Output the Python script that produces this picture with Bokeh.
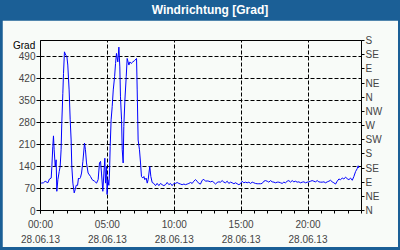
from bokeh.plotting import figure
from bokeh.models import Range1d, LinearAxis, FixedTicker, Div
from bokeh.layouts import column
from bokeh.embed import file_html
from bokeh.resources import INLINE

# ---- data ----
hours = [0.05, 0.22, 0.35, 0.55, 0.67, 0.80, 0.85, 0.92, 0.97, 1.02, 1.10, 1.17, 1.22, 1.30, 1.40,
         1.47, 1.54, 1.59, 1.67, 1.72, 1.79, 1.89, 1.97, 2.04, 2.14, 2.22, 2.29, 2.34, 2.42, 2.52,
         2.59, 2.67, 2.77, 2.84, 2.91, 2.99, 3.07, 3.17, 3.29, 3.36, 3.44, 3.56, 3.74, 3.86, 4.04,
         4.19, 4.31, 4.41, 4.49, 4.56, 4.66, 4.74, 4.81, 4.86, 4.94, 4.98, 5.03, 5.11, 5.16, 5.21,
         5.28, 5.36, 5.44, 5.54, 5.61, 5.68, 5.78, 5.86, 5.93, 5.98, 6.06, 6.11, 6.18, 6.23, 6.31,
         6.41, 6.48, 6.61, 6.68, 6.78, 6.90, 7.03, 7.18, 7.23, 7.30, 7.40, 7.48, 7.55, 7.65, 7.73,
         7.80, 7.90, 7.98, 8.05, 8.17, 8.25, 8.35, 8.47, 8.60, 8.72, 8.85, 8.97, 9.10, 9.22, 9.35,
         9.47, 9.60, 9.72, 9.84, 9.97, 10.09, 10.22, 10.34, 10.47, 10.59, 10.72, 10.84, 10.97, 11.09,
         11.22, 11.34, 11.46, 11.59, 11.71, 11.84, 11.96, 12.09, 12.21, 12.34, 12.46, 12.59, 12.71,
         12.84, 12.96, 13.09, 13.21, 13.33, 13.46, 13.58, 13.71, 13.83, 13.96, 14.08, 14.21, 14.33,
         14.46, 14.58, 14.70, 14.83, 14.95, 15.08, 15.20, 15.33, 15.45, 15.58, 15.70, 15.83, 15.95,
         16.07, 16.20, 16.32, 16.45, 16.57, 16.70, 16.82, 16.95, 17.07, 17.20, 17.32, 17.45, 17.57,
         17.70, 17.82, 17.95, 18.07, 18.19, 18.32, 18.44, 18.57, 18.69, 18.82, 18.94, 19.07, 19.19,
         19.32, 19.44, 19.57, 19.69, 19.81, 19.94, 20.06, 20.19, 20.31, 20.44, 20.56, 20.69, 20.81,
         20.94, 21.06, 21.19, 21.31, 21.44, 21.56, 21.68, 21.81, 21.93, 22.06, 22.18, 22.31, 22.43,
         22.56, 22.68, 22.81, 22.93, 23.06, 23.18, 23.31, 23.43, 23.56, 23.68, 23.75, 23.80]
values = [87, 88, 93, 88, 100, 103, 140, 203, 237, 193, 140, 161, 61, 98, 124,
          140, 193, 277, 372, 435, 504, 493, 490, 462, 383, 288, 224, 140, 87, 56,
          66, 80, 80, 103, 100, 105, 119, 156, 214, 193, 151, 119, 108, 98, 93,
          87, 98, 151, 156, 119, 61, 119, 166, 87, 140, 51, 98, 80, 119, 203,
          288, 330, 383, 425, 467, 499, 472, 519, 456, 361, 288, 193, 151, 267, 351,
          425, 483, 462, 472, 467, 472, 476, 483, 383, 224, 193, 151, 108, 103, 108,
          98, 103, 87, 98, 140, 108, 89, 86, 79, 86, 79, 86, 82, 79, 82,
          89, 82, 86, 79, 86, 86, 89, 86, 84, 82, 84, 82, 84, 86,
          89, 86, 93, 98, 93, 86, 84, 96, 99, 93, 94, 93, 91,
          93, 89, 84, 89, 91, 90, 95, 90, 88, 93, 86, 90, 88,
          85, 88, 85, 82, 85, 93, 88, 90, 88, 90, 86, 90, 88,
          86, 85, 85, 85, 86, 93, 95, 93, 90, 95, 91, 90, 88,
          90, 90, 88, 86, 90, 88, 93, 95, 90, 95, 91, 93, 90,
          91, 88, 90, 91, 88, 90, 91, 93, 95, 93, 91, 95, 91,
          90, 90, 91, 88, 91, 93, 96, 91, 88, 84, 93, 100, 98,
          103, 100, 106, 101, 98, 103, 96, 108, 124, 133, 142, 135]

x_ticks = [0, 5, 10, 15, 20]
x_tick_labels = ["00:00\n28.06.13", "05:00\n28.06.13", "10:00\n28.06.13",
                 "15:00\n28.06.13", "20:00\n28.06.13"]
y_ticks = [0, 70, 140, 210, 280, 350, 420, 490]
dir_ticks = [0, 45, 90, 135, 180, 225, 270, 315, 360, 405, 450, 495, 540]
dir_labels = ["N", "NE", "E", "SE", "S", "SW", "W", "NW", "N", "NE", "E", "SE", "S"]

BG = "#F8FBF8"
BLUE = "#1B5F96"
FONT = "Liberation Sans"
FS = "10px"

p = figure(width=396, height=227, x_range=Range1d(0, 24), y_range=Range1d(0, 540),
           output_backend="svg", toolbar_location=None,
           min_border_left=38, min_border_right=37, min_border_top=20, min_border_bottom=36,
           background_fill_color=BG, border_fill_color=BG,
           outline_line_color="black", outline_line_width=1)

p.line(hours, values, line_color="#0000FF", line_width=1)

xa = p.xaxis[0]
xa.ticker = FixedTicker(ticks=x_ticks, minor_ticks=list(range(0, 25)))
xa.major_label_overrides = {t: l for t, l in zip(x_ticks, x_tick_labels)}
xa.major_tick_out = 3
xa.major_tick_in = 0
xa.minor_tick_out = 3
xa.minor_tick_in = 0
xa.major_label_standoff = 5
xa.major_label_text_font = FONT
xa.major_label_text_font_size = FS
xa.major_label_text_line_height = 1.4
xa.axis_line_color = "black"

ya = p.yaxis[0]
ya.ticker = FixedTicker(ticks=y_ticks)
ya.major_tick_out = 4
ya.major_tick_in = 0
ya.minor_tick_line_color = None
ya.major_label_standoff = 1
ya.major_label_text_font = FONT
ya.major_label_text_font_size = FS

ra = LinearAxis(ticker=FixedTicker(ticks=dir_ticks),
                major_label_overrides={t: l for t, l in zip(dir_ticks, dir_labels)})
ra.major_tick_out = 3
ra.major_tick_in = 0
ra.minor_tick_line_color = None
ra.major_label_standoff = 1
ra.major_label_text_font = FONT
ra.major_label_text_font_size = FS
p.add_layout(ra, "right")

for g in (p.xgrid[0], p.ygrid[0]):
    g.grid_line_color = "black"
    g.grid_line_dash = "4 2"
    g.grid_line_width = 1

title = Div(text=('<div style="position:relative;width:396px;height:20px;line-height:20px;'
                  'text-align:center;padding-left:20px;box-sizing:border-box;color:white;'
                  'font-weight:bold;font-family:Liberation Sans;font-size:12px;">'
                  'Windrichtung [Grad]'
                  '<span style="position:absolute;left:11px;top:40px;z-index:10;color:black;'
                  'font-weight:normal;font-size:10px;line-height:12px;">Grad</span></div>'),
            width=396, height=20, margin=0, styles={"overflow": "visible", "z-index": "10"})

layout = column(title, p, styles={"background-color": BLUE, "padding": "0px 2px 3px 2px"},
                spacing=0)

open("out.html", "w").write(file_html(layout, INLINE))
